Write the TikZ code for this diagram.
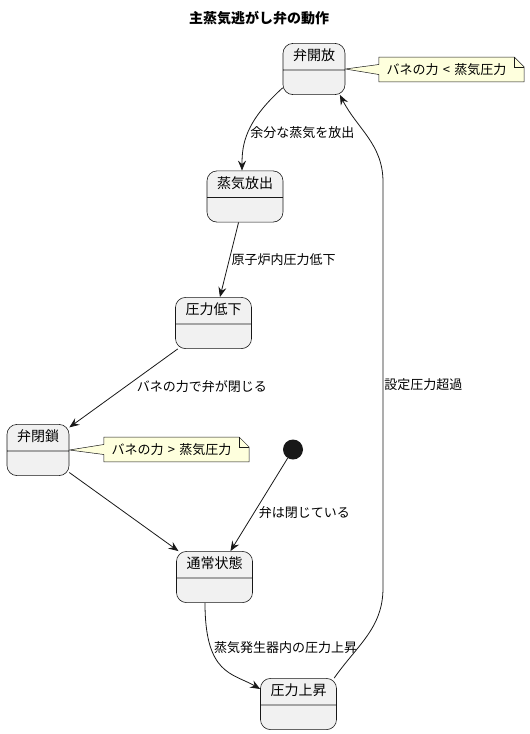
\documentclass[tikz,border=0pt]{standalone}
\usepackage{fontspec}
\setmainfont{Noto Sans CJK JP}
\usetikzlibrary{shapes.multipart, arrows.meta, backgrounds}
\definecolor{linec}{HTML}{181818}
\definecolor{statefill}{HTML}{F1F1F1}
\definecolor{notefill}{HTML}{FEFFDD}

\begin{document}
\begin{tikzpicture}[x=1pt, y=-1pt]
		\tikzstyle{state}=[rectangle split, rectangle split parts=2, draw=linec, fill=statefill, rounded corners=10pt, line width=0.6pt, inner xsep=10pt, inner ysep=6pt, text height=11pt, text depth=3pt, rectangle split empty part height=12pt, rectangle split empty part depth=0pt, font=\fontsize{14pt}{16pt}\selectfont]
		\tikzstyle{connect}=[-{Stealth[length=10pt, width=8pt, inset=3.5pt]}, line width=0.8pt, draw=linec]
		\tikzstyle{lbl}=[inner sep=0pt, font=\fontsize{13pt}{15pt}\selectfont]
		\tikzstyle{notebox}=[inner xsep=7.5pt, inner ysep=0pt, minimum height=24.5pt, align=left, text width=130pt, font=\fontsize{13pt}{15pt}\selectfont]
		\tikzstyle{noteline}=[draw=linec, fill=notefill, line width=0.5pt]
		\useasboundingbox (0,0) rectangle (530,734);
		
		\node[font=\bfseries\fontsize{14pt}{16pt}\selectfont] (title) at (259,18) {主蒸気逃がし弁の動作};
		
		\node[state] (open) at (314,69) {弁開放};
		\node[state] (release) at (245,196.5) {蒸気放出};
		\node[state] (drop) at (213.5,323) {圧力低下};
		\node[state] (closed) at (38,450) {弁閉鎖};
		\node[state] (normal) at (214.5,577) {通常状態};
		\node[state] (rise) at (298.5,704) {圧力上昇};
		\node[circle, fill=linec, minimum size=20pt, inner sep=0pt] (init) at (293,449.5) {};
		
		\node[notebox] (noteopen) at (451.5,69.5) {バネの力 < 蒸気圧力};
		\node[notebox] (noteclosed) at (176.5,449.5) {バネの力 > 蒸気圧力};
		
		% note outlines with pointer
		\begin{scope}[on background layer]
			\foreach \st/\nt in {open/noteopen, closed/noteclosed}{
				\filldraw[noteline] (\nt.north west) -- ([xshift=-10pt]\nt.north east) -- ([yshift=-10pt]\nt.north east) -- (\nt.south east) -- (\nt.south west) -- ([yshift=-5pt]\nt.west) -- (\st.east) -- ([yshift=5pt]\nt.west) -- cycle;
				\draw[noteline, fill=none] ([xshift=-10pt]\nt.north east) |- ([yshift=-10pt]\nt.north east);
			}
		\end{scope}
		
		\coordinate (upbot) at (383,588);
		\coordinate (uptop) at (383,182);
		
		\path (open.211) edge [connect, out=222, in=90, out looseness=1.43, in looseness=0.7] node[lbl, pos=0.5, anchor=west, xshift=2pt] {余分な蒸気を放出} ([xshift=-3pt]release.north);
		\path (release) edge [connect] node[lbl, midway, anchor=west, xshift=2pt] {原子炉内圧力低下} (drop);
		\path (drop) edge [connect] node[lbl, midway, anchor=west, xshift=13pt, yshift=2pt] {バネの力で弁が閉じる} (closed);
		\path (closed) edge [connect] (normal);
		\path (init) edge [connect] node[lbl, pos=0.58, anchor=west, xshift=4pt] {弁は閉じている} (normal);
		\path ([xshift=-9.5pt]normal.south) edge [connect, out=-90, in=150, out looseness=1.8, in looseness=0.8] node[lbl, pos=0.3, anchor=west, xshift=2pt, yshift=3pt] {蒸気発生器内の圧力上昇} ([yshift=15pt]rise.west);
		
		\draw[connect] (rise.36) to[out=55, in=-90] (upbot) -- node[lbl, midway, anchor=west, xshift=1pt] {設定圧力超過} (uptop) to[out=90, in=-63] (open.-45);
		
	\end{tikzpicture}
\end{document}
